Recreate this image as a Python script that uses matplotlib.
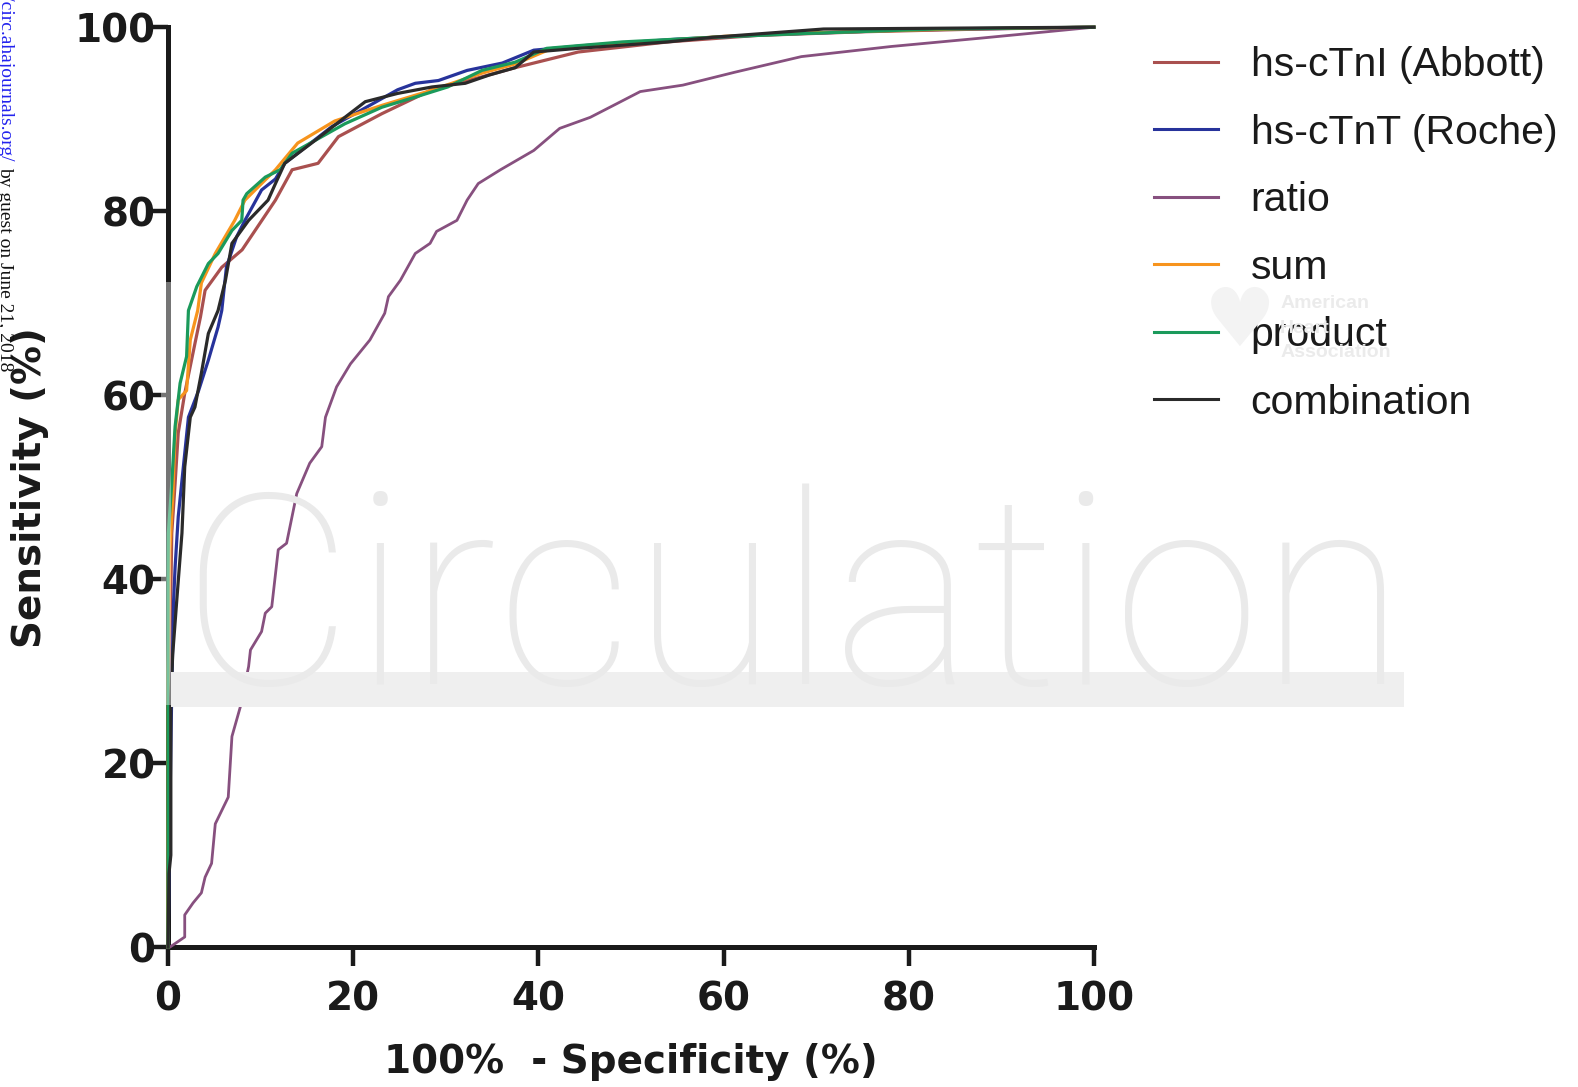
import matplotlib
matplotlib.use("Agg")
import matplotlib.pyplot as plt
from matplotlib.patches import Rectangle

# ROC curves: x = 100% - specificity, y = sensitivity
abbott_x = [0, 0, 0.2, 0.4, 0.76, 1.1, 1.8, 2.9, 3.5, 4.0, 5.8, 8.0, 11.6, 13.4, 16.2, 18.4,
            23.1, 28.5, 33.9, 37.5, 39.5, 44.3, 54, 63.6, 75, 88, 100]
abbott_y = [0, 12, 32, 45, 50.4, 55.9, 60.2, 65.6, 68.5, 71.4, 73.9, 75.8, 81.2, 84.5, 85.2, 88.1,
            90.6, 93.2, 94.6, 95.6, 96.1, 97.3, 98.4, 99.1, 99.5, 99.8, 100]

roche_x = [0, 0.2, 0.4, 0.6, 0.76, 1.1, 1.65, 2.2, 3.3, 4.35, 5.4, 5.8, 6.3, 7.4, 8.3, 10.1, 11.6,
           12.6, 17.7, 24.8, 26.7, 29.2, 32.3, 36.1, 39.5, 45, 55, 65, 80, 100]
roche_y = [0, 15, 28, 37.7, 41.3, 46.8, 52.2, 57.6, 60.5, 63.8, 67.4, 69.2, 73.9, 77.2, 79, 82.3, 83.5,
           85.2, 89.2, 93.2, 93.9, 94.2, 95.3, 96.1, 97.5, 98.0, 98.7, 99.2, 99.7, 100]

ratio_x = [0, 0.2, 1.8, 1.8, 2.7, 3.6, 4.0, 4.7, 5.1, 6.5, 6.9, 7.8, 8.7, 8.9, 10.1, 10.5, 11.2, 11.9,
           12.8, 13.9, 15.3, 16.6, 17.0, 18.2, 19.7, 21.8, 23.4, 23.8, 25.1, 26.7, 28.3, 29.0, 31.2,
           32.3, 33.5, 35.9, 39.5, 42.3, 45.6, 48.5, 51, 55.6, 61.2, 68.4, 78.1, 87.7, 94.9, 100]
ratio_y = [0, 0, 1.1, 3.5, 4.8, 5.9, 7.6, 9.1, 13.4, 16.3, 22.9, 26.1, 30.5, 32.3, 34.3, 36.3, 37, 43.2,
           43.9, 49.3, 52.6, 54.4, 57.6, 60.9, 63.4, 66, 68.9, 70.7, 72.5, 75.4, 76.5, 77.8, 79,
           81.2, 83, 84.5, 86.6, 89, 90.2, 91.7, 93, 93.7, 95.1, 96.8, 97.9, 98.8, 99.5, 100]

sum_x = [0, 0, 0.2, 0.54, 0.76, 1.1, 2.0, 2.4, 3.2, 3.6, 5.1, 7.2, 8.3, 11.6, 14, 18, 23.1, 28,
         33.9, 37.5, 41, 50, 60, 70, 85, 100]
sum_y = [0, 30, 43.2, 49.7, 55.8, 59.5, 60.5, 66, 69.2, 72.2, 75.4, 79, 81.2, 84.5, 87.4, 89.8, 91.5, 93.0,
         95.0, 96.0, 97.5, 98.3, 99.0, 99.4, 99.8, 100]

product_x = [0, 0, 0.03, 0.4, 0.76, 1.3, 2.0, 2.2, 3.1, 4.35, 5.4, 6.9, 7.96, 8.1, 8.5, 10.5, 12.1, 13.4,
             15.9, 19.1, 23.1, 26.7, 30.2, 33.9, 37.5, 40.9, 49.1, 58.8, 68.4, 82.9, 100]
product_y = [0, 40, 45, 50.4, 56.6, 61.3, 64.2, 69.2, 71.8, 74.3, 75.4, 77.9, 79.0, 81.2, 81.9, 83.7, 84.5, 86.3,
             87.7, 89.5, 91.3, 92.4, 93.5, 95.3, 96.2, 97.7, 98.4, 98.9, 99.3, 99.8, 100]

combo_x = [0, 0.1, 0.3, 0.3, 0.5, 0.94, 1.5, 1.8, 2.4, 2.9, 3.6, 4.35, 5.4, 6.2, 6.9, 8.7, 10.8, 11.6,
           12.6, 15.5, 19.1, 21.3, 24.8, 28.5, 32.1, 34.7, 37.5, 39.5, 44.3, 54, 58.8, 70.8, 100]
combo_y = [0, 8, 10, 27, 31.8, 37.7, 45, 52.2, 57.6, 58.7, 62.4, 66.7, 69.2, 72.5, 76.5, 79, 81.2, 83,
           85.2, 87.4, 90.2, 91.9, 92.8, 93.5, 93.9, 94.8, 95.6, 97.3, 97.7, 98.4, 98.9, 99.8, 100]

labels = ["hs-cTnI (Abbott)", "hs-cTnT (Roche)", "ratio", "sum", "product", "combination"]
colors = ["#a9504f", "#27339b", "#87507f", "#f7941d", "#1b9a5b", "#2a2a2a"]
series = [(abbott_x, abbott_y), (roche_x, roche_y), (ratio_x, ratio_y),
          (sum_x, sum_y), (product_x, product_y), (combo_x, combo_y)]
ticks = [0, 20, 40, 60, 80, 100]

fig = plt.figure(figsize=(15.78, 10.87), dpi=100)
W, H = 1568.0, 1080.0
ax = fig.add_axes([167 / W, 1 - 941 / H, 920 / W, 914 / H])

# watermark behind everything
fig.text(179 / W, 1 - 680 / H, "Circulation", fontsize=192, family="Roboto", fontweight="light",
         color="#eaeaea", ha="left", va="baseline", zorder=0)
fig.patches.append(Rectangle((170 / W, 1 - 702 / H), 1225 / W, 34 / H, transform=fig.transFigure,
                             facecolor="#efefef", edgecolor="none", zorder=0))
fig.text(1232 / W, 1 - 322 / H, "\u2665", fontsize=58, color="#f3f3f3", ha="center", va="center", zorder=0)
for i, w in enumerate(["American", "Heart", "Association"]):
    fig.text(1272 / W, 1 - (302 + 24 * i) / H, w, fontsize=14, fontweight="bold",
             family="Liberation Sans", color="#ebebeb", ha="left", va="center", zorder=0)
ax.patch.set_alpha(0)

for (xs, ys), lab, c in zip(series, labels, colors):
    lw = 2.0 if lab == "ratio" else 2.3
    ax.plot(xs, ys, color=c, lw=lw, label=lab, clip_on=False, zorder=3)

ax.set_xlim(0, 100)
ax.set_ylim(0, 100)
ax.set_xticks(ticks)
ax.set_yticks(ticks)
for s in ["top", "right"]:
    ax.spines[s].set_visible(False)
for s in ["left", "bottom"]:
    ax.spines[s].set_linewidth(3.6)
    ax.spines[s].set_color("#1a1a1a")
ax.tick_params(direction="out", length=14, width=3.2, color="#1a1a1a", labelsize=28)
ax.tick_params(axis="x", pad=10)
ax.tick_params(axis="y", pad=-5)
for t in ax.get_xticklabels() + ax.get_yticklabels():
    t.set_fontweight("bold")
    t.set_family("DejaVu Sans")
    t.set_color("#1a1a1a")

# faded stretch of the y axis where the watermark sits over it
fig.patches.append(Rectangle((160 / W, 1 - 700 / H), 10 / W, 420 / H, transform=fig.transFigure,
                             facecolor="white", alpha=0.4, edgecolor="none", zorder=5))

ax.set_xlabel("100%  - Specificity (%)", fontsize=28, fontweight="bold", color="#1a1a1a")
ax.set_ylabel("Sensitivity (%)", fontsize=28, fontweight="bold", color="#1a1a1a")
ax.xaxis.set_label_coords(0.5, (941 - 1055) / 914)
ax.yaxis.set_label_coords((30 - 167) / 920, 0.5)
ax.xaxis.label.set_va("center")
ax.yaxis.label.set_va("center")

leg = ax.legend(loc="upper left", bbox_to_anchor=(1147 / W, 1 - 46 / H), bbox_transform=fig.transFigure,
                frameon=False, prop={"family": "Liberation Sans", "size": 29.5},
                handlelength=1.55, handletextpad=0.8, labelspacing=0.72, borderpad=0, borderaxespad=0)
for line in leg.get_lines():
    line.set_linewidth(2.2)
for t in leg.get_texts():
    t.set_color("#1a1a1a")

# cut-off download stamp on the left edge
fig.text(5 / W, 1 - 160 / H, "http://circ.ahajournals.org/", fontsize=14, family="Liberation Serif",
         color="#2222ee", rotation=-90, rotation_mode="anchor", ha="right", va="center")
fig.text(5 / W, 1 - 166 / H, "by guest on June 21, 2018", fontsize=14, family="Liberation Serif",
         color="#111111", rotation=-90, rotation_mode="anchor", ha="left", va="center")

fig.savefig("out.png", dpi=100)
